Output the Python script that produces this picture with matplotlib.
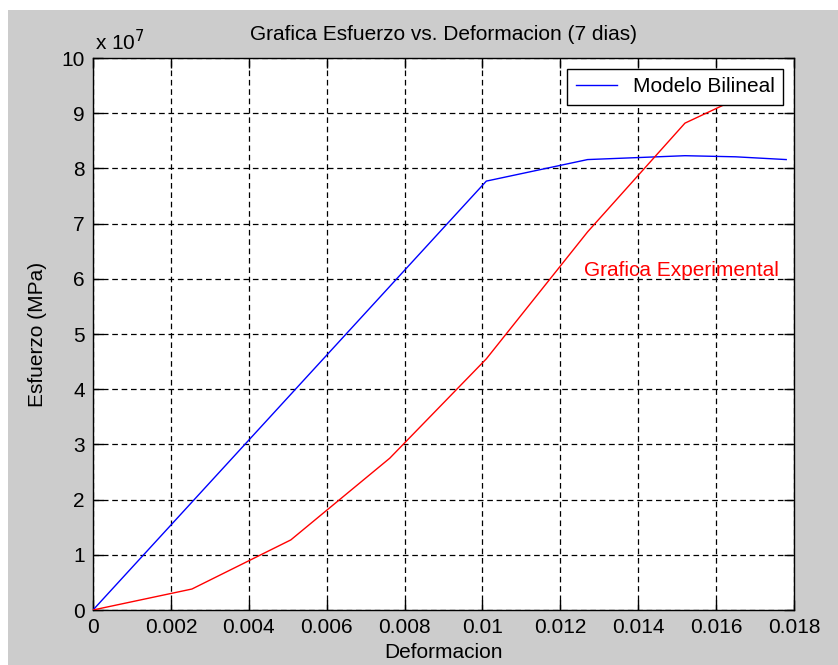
import matplotlib
matplotlib.use("Agg")
import matplotlib.pyplot as plt
from matplotlib.patches import Rectangle

# Data (stress in Pa, strain dimensionless)
bilineal_x = [0.0, 0.0101, 0.0127, 0.0152, 0.0165, 0.0178]
bilineal_y = [0.0, 7.77e7, 8.16e7, 8.23e7, 8.21e7, 8.16e7]

exp_x = [0.0, 0.00254, 0.00508, 0.00762, 0.0101, 0.0127, 0.0152, 0.0165]
exp_y = [0.0, 0.38e7, 1.27e7, 2.75e7, 4.55e7, 6.85e7, 8.82e7, 9.25e7]

x_ticks = [0, 0.002, 0.004, 0.006, 0.008, 0.01, 0.012, 0.014, 0.016, 0.018]
x_tick_labels = ["0", "0.002", "0.004", "0.006", "0.008", "0.01", "0.012", "0.014", "0.016", "0.018"]
y_ticks = [i * 1e7 for i in range(11)]
y_tick_labels = [str(i) for i in range(11)]

FONT = "Liberation Sans"
plt.rcParams["font.family"] = [FONT, "DejaVu Sans"]
FS = 15

W, H = 838, 665
fig = plt.figure(figsize=(W / 100, H / 100), dpi=100, facecolor="white")
# gray figure panel (white strip at top and left)
fig.patches.append(Rectangle((8 / W, 0), 1 - 8 / W, 1 - 10 / H, transform=fig.transFigure,
                             facecolor="#cccccc", edgecolor="none", zorder=-10))

ax = fig.add_axes([93 / W, (H - 610) / H, (794 - 93) / W, (610 - 58) / H])
ax.set_facecolor("white")

ax.plot(bilineal_x, bilineal_y, color="#0000ff", lw=1.0, label="Modelo Bilineal", zorder=3)
ax.plot(exp_x, exp_y, color="#ff0000", lw=1.0, zorder=3)

ax.set_xlim(0, 0.018)
ax.set_ylim(0, 1e8)
ax.set_xticks(x_ticks)
ax.set_xticklabels(x_tick_labels)
ax.set_yticks(y_ticks)
ax.set_yticklabels(y_tick_labels)

ax.grid(True, color="black", linestyle=(0, (4.5, 3)), linewidth=0.9)
ax.set_axisbelow(False)
ax.tick_params(direction="in", length=7, width=1, top=True, right=True,
               labelsize=FS, colors="black", pad=6)
for s in ax.spines.values():
    s.set_color("black")
    s.set_linewidth(1.0)

ax.text(0.01262, 6.15e7, "Grafica Experimental", color="#ff0000", fontsize=FS,
        ha="left", va="center", zorder=4)

leg = ax.legend(loc="upper right", bbox_to_anchor=((783 - 93) / 701, (610 - 69) / 552),
                borderaxespad=0, fancybox=False, framealpha=1, edgecolor="black",
                fontsize=FS, handlelength=2.0, handletextpad=0.75, borderpad=0.4)
leg.get_frame().set_linewidth(1.0)
leg.set_zorder(5)

fig.text(443 / W, 1 - 35 / H, "Grafica Esfuerzo vs. Deformacion (7 dias)", ha="center",
         va="center", fontsize=FS)
fig.text(443 / W, 1 - 653 / H, "Deformacion", ha="center", va="center", fontsize=FS)
fig.text(38 / W, 1 - 334 / H, "Esfuerzo (MPa)", ha="center", va="center", rotation=90,
         fontsize=FS)
fig.text(95 / W, 1 - 42 / H, r"x 10$^{7}$", ha="left", va="center", fontsize=FS)

fig.savefig("out.png", dpi=100, facecolor=fig.get_facecolor())
